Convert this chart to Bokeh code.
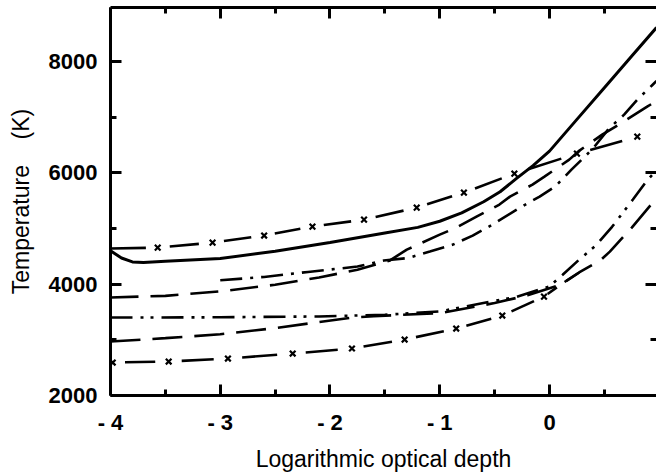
import numpy as np
from bokeh.plotting import figure
from bokeh.models import FixedTicker, LinearAxis, Range1d
from bokeh.embed import file_html
from bokeh.resources import INLINE

# ---- tick definitions ----
x_major = [-4, -3, -2, -1, 0, 1]
x_minor = [-3.5, -2.5, -1.5, -0.5, 0.5]
x_labels = ["- 4", "- 3", "- 2", "- 1", "0", "1"]
y_major = [2000, 4000, 6000, 8000]
y_minor = [3000, 5000, 7000]

# ---- series (log optical depth, temperature K) ----
solid_x = [-4.0, -3.9, -3.8, -3.7, -3.5, -3.0, -2.5, -2.0, -1.5, -1.2, -1.0, -0.8, -0.6,
           -0.45, -0.3, -0.15, 0.0, 0.25, 0.5, 0.75, 0.975]
solid_y = [4600, 4470, 4400, 4390, 4410, 4460, 4590, 4750, 4920, 5020, 5130, 5280, 5480,
           5660, 5900, 6130, 6390, 6960, 7530, 8100, 8610]

# upper dashed curve with x markers (first point has no marker)
upx_x = [-4.0, -3.57, -3.07, -2.60, -2.16, -1.69, -1.21, -0.78, -0.32, 0.25, 0.80]
upx_y = [4640, 4657, 4747, 4873, 5034, 5160, 5375, 5645, 5986, 6345, 6650]

# upper dash-dot curve
udd_x = [-3.0, -2.6, -2.2, -1.75, -1.51, -1.29, -1.09, -0.88, -0.70, -0.52, -0.27, -0.09,
         0.05, 0.14, 0.20, 0.34, 0.41, 0.54, 0.68, 0.80, 0.94, 0.975]
udd_y = [4070, 4130, 4220, 4316, 4424, 4470, 4585, 4711, 4872, 5070, 5375, 5573,
         5752, 5932, 6057, 6327, 6470, 6793, 7045, 7314, 7583, 7650]

# upper long-dash curve
uld_x = [-4.0, -3.5, -3.0, -2.5, -2.1, -1.75, -1.46, -1.30, -1.16, -1.0, -0.85, -0.665,
         -0.456, -0.36, -0.155, -0.046, 0.18, 0.273, 0.48, 0.66, 0.89, 0.975]
uld_y = [3760, 3790, 3870, 3990, 4120, 4260, 4420, 4620, 4747, 4890, 5016, 5214,
         5430, 5573, 5788, 5932, 6237, 6400, 6686, 6900, 7190, 7290]

# lower dash-dot-dot curve
ldd_x = [-4.0, -3.0, -2.1, -1.5, -1.0, -0.5, -0.3, 0.0, 0.12, 0.27, 0.43, 0.57, 0.76, 0.88, 0.975]
ldd_y = [3400, 3405, 3420, 3450, 3510, 3700, 3770, 3960, 4170, 4440, 4710, 5030, 5520, 5840, 6050]

# lower long-dash curve
lld_x = [-4.0, -3.5, -3.0, -2.5, -2.1, -1.8, -1.6, -1.0, -0.5, -0.2, 0.1, 0.27, 0.47, 0.55,
         0.75, 0.91, 0.975]
lld_y = [2970, 3030, 3100, 3210, 3320, 3400, 3425, 3480, 3660, 3800, 3990, 4210, 4440, 4585,
         5016, 5393, 5555]

# lower dashed curve with x markers (last two points have no marker)
lox_x = [-3.98, -3.47, -2.93, -2.34, -1.80, -1.32, -0.85, -0.43, -0.05, 0.10, 0.27]
lox_y = [2592, 2610, 2664, 2754, 2844, 3005, 3203, 3436, 3777, 3990, 4210]


def dash_segments(xs, ys, t0, t1):
    xs = np.asarray(xs, float)
    ys = np.asarray(ys, float)
    dx = np.diff(xs)
    dy = np.diff(ys)
    t0 = np.asarray(t0, float)
    t1 = np.asarray(t1, float)
    return (xs[:-1] + t0 * dx, ys[:-1] + t0 * dy,
            xs[:-1] + t1 * dx, ys[:-1] + t1 * dy)


FONT = "Liberation Sans"

p = figure(frame_width=546, frame_height=388,
           x_range=Range1d(-4, 0.975), y_range=Range1d(2000, 8970),
           output_backend="svg", toolbar_location=None,
           min_border_left=110, min_border_right=0, min_border_top=7,
           min_border_bottom=66, outline_line_color=None,
           background_fill_color="white", border_fill_color="white")
p.grid.visible = False

xt = FixedTicker(ticks=x_major, minor_ticks=x_minor)
yt = FixedTicker(ticks=y_major, minor_ticks=y_minor)


def style_axis(ax, ticker, labels=True):
    ax.ticker = ticker
    ax.axis_line_width = 3
    ax.axis_line_color = "black"
    ax.major_tick_in = 11
    ax.major_tick_out = 0
    ax.minor_tick_in = 6
    ax.minor_tick_out = 0
    ax.major_tick_line_width = 3
    ax.minor_tick_line_width = 3
    ax.major_tick_line_color = "black"
    ax.minor_tick_line_color = "black"
    if labels:
        ax.major_label_text_font = FONT
        ax.major_label_text_font_style = "bold"
        ax.major_label_text_font_size = "22px"
        ax.major_label_text_color = "black"
        ax.axis_label_text_font = FONT
        ax.axis_label_text_font_style = "normal"
        ax.axis_label_text_font_size = "23px"
        ax.axis_label_text_color = "black"
    else:
        ax.major_label_text_color = None
        ax.major_label_text_font_size = "1px"
        ax.major_label_standoff = 0


xa = p.xaxis[0]
style_axis(xa, xt)
xa.major_label_overrides = {v: s for v, s in zip(x_major, x_labels)}
xa.major_label_standoff = 14
xa.axis_label = "Logarithmic optical depth"
xa.axis_label_standoff = 8

ya = p.yaxis[0]
style_axis(ya, yt)
ya.major_label_standoff = 13
ya.axis_label = "Temperature\u00a0\u00a0\u00a0\u00a0(K)"
ya.axis_label_standoff = 12

top = LinearAxis()
style_axis(top, FixedTicker(ticks=x_major, minor_ticks=x_minor), labels=False)
p.add_layout(top, "above")

right = LinearAxis()
style_axis(right, FixedTicker(ticks=y_major, minor_ticks=y_minor), labels=False)
right.axis_line_color = None
p.add_layout(right, "right")

LW = 2.6
# solid
p.line(solid_x, solid_y, line_color="black", line_width=3)
# upper long dash
p.line(uld_x, uld_y, line_color="black", line_width=LW, line_dash="28 12")
# upper dash-dot
p.line(udd_x, udd_y, line_color="black", line_width=LW, line_dash="22 8 3 8")
# lower dash-dot-dot
p.line(ldd_x, ldd_y, line_color="black", line_width=LW, line_dash="22 8 3 7 3 8")
# lower long dash
p.line(lld_x, lld_y, line_color="black", line_width=LW, line_dash="30 12")

# dashed curves with x markers
n_up = len(upx_x) - 1
t0_up = [0.0] + [0.22] * (n_up - 1)
t1_up = [0.75] * n_up
sx0, sy0, sx1, sy1 = dash_segments(upx_x, upx_y, t0_up, t1_up)
p.segment(sx0, sy0, sx1, sy1, line_color="black", line_width=LW)
p.scatter(upx_x[1:], upx_y[1:], marker="x", size=8, line_width=2.2, line_color="black")

n_lo = len(lox_x) - 1
t0_lo = [0.22] * n_lo
t1_lo = [0.76] * (n_lo - 2) + [0.78, 1.0]
lx0, ly0, lx1, ly1 = dash_segments(lox_x, lox_y, t0_lo, t1_lo)
p.segment(lx0, ly0, lx1, ly1, line_color="black", line_width=LW)
p.scatter(lox_x[:9], lox_y[:9], marker="x", size=8, line_width=2.2, line_color="black")

open("out.html", "w").write(file_html(p, INLINE))
